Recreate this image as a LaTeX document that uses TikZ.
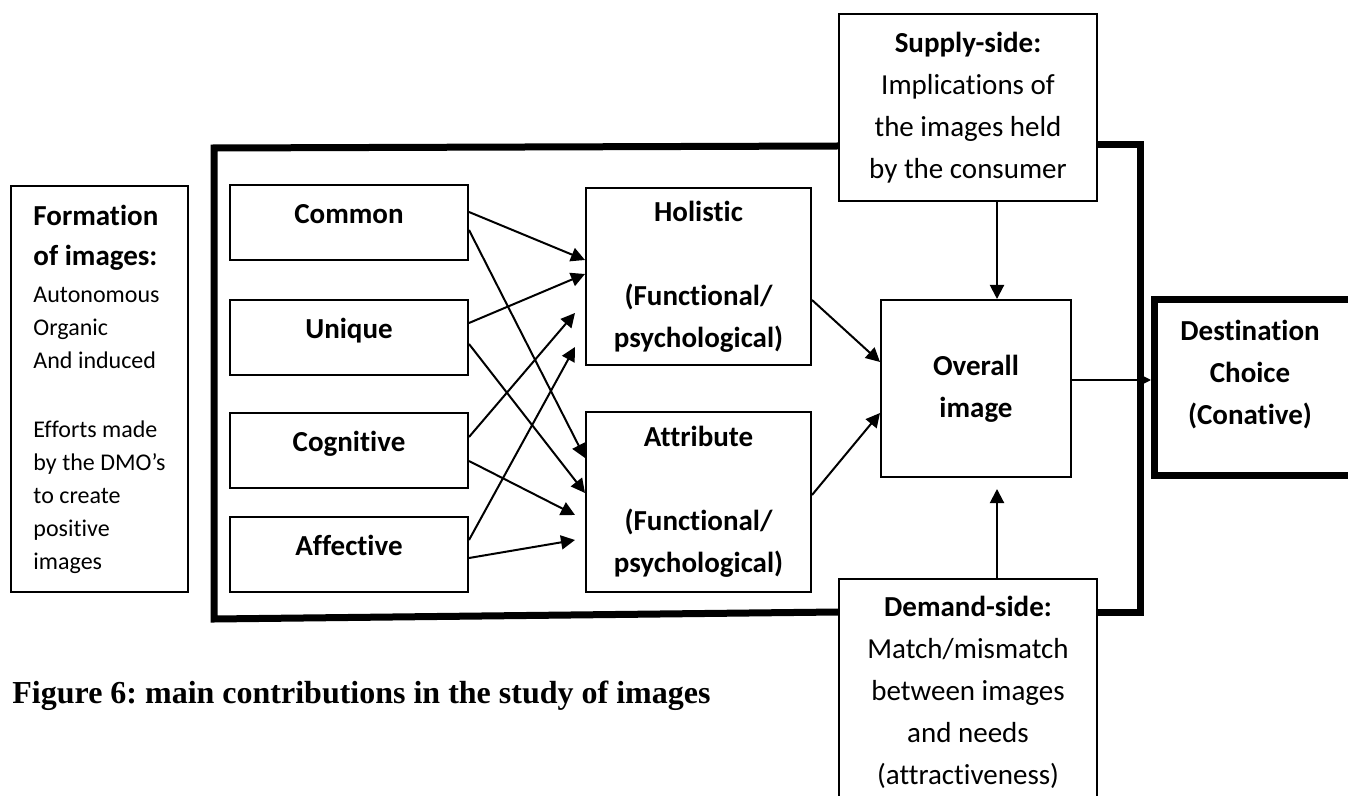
\documentclass[tikz,border=0pt]{standalone}
\usepackage{fontspec}
\setmainfont{Carlito}[Ligatures=NoCommon]
\newfontfamily\capfont{Liberation Serif}
\usetikzlibrary{positioning,arrows.meta}
\frenchspacing

\tikzset{
  box/.style={draw, line width=1pt, align=center, inner sep=2pt, font=\fontsize{14.5}{21}\selectfont},
  boldbox/.style={box, font=\fontsize{14.5}{21}\selectfont\bfseries},
  typebox/.style={boldbox, minimum width=119pt, minimum height=37.5pt, text height=9pt, text depth=8pt},
  arr/.style={-{Triangle[length=7pt,width=7pt]}, line width=1pt},
  bigframe/.style={line width=3.5pt}
}

\begin{document}
\begin{tikzpicture}[x=0.5pt, y=-0.5pt]
    \clip (0,0) rectangle (1348,796);
    \useasboundingbox (0,0) rectangle (1348,796);

    % Left column
    \node[box, align=left, minimum width=88.5pt, minimum height=203pt, font=\fontsize{12}{16.5}\selectfont] (formation) at (99.5,389)
      {{\fontsize{14.5}{20}\selectfont\bfseries Formation}\\[3.5pt]{\fontsize{14.5}{20}\selectfont\bfseries of images:}\\[2pt]Autonomous\\Organic\\And induced\\[18pt]Efforts made\\by the DMO’s\\to create\\positive\\images};

    \node[typebox] (common) at (349,223) {Common};
    \node[typebox] (unique) at (349,338) {Unique};
    \node[typebox] (cognitive) at (349,450) {Cognitive};
    \node[typebox] (affective) at (349,554.5) {Affective};

    % Middle column
    \node[boldbox, minimum width=112.5pt, minimum height=88.5pt, yshift=-1pt] (holistic) at (698.5,274.5) {Holistic\\[21pt](Functional/\\psychological)};
    \node[boldbox, minimum width=112.5pt, minimum height=90pt] (attribute) at (698.5,502) {Attribute\\[21pt](Functional/\\psychological)};

    \node[boldbox, minimum width=95pt, minimum height=88.5pt] (overall) at (976,388.5) {Overall\\image};

    \node[box, minimum width=129pt, minimum height=93.5pt] (supply) at (968,107.5)
      {\textbf{Supply-side:}\\Implications of\\the images held\\by the consumer};
    \node[box, minimum width=129pt, minimum height=113.5pt] (demand) at (968,692.5)
      {\textbf{Demand-side:}\\Match/mismatch\\between images\\and needs\\(attractiveness)};

    % Destination
    \node[draw, line width=3.5pt, minimum width=115pt, minimum height=87.5pt, anchor=west] (dest) at (1151,387.5) {};
    \node[font=\fontsize{14.5}{21}\selectfont\bfseries, align=center] (choice) at (1250,375) {Destination\\Choice\\(Conative)};

    % Thick frame
    \draw[bigframe] (supply.west |- 0,146) -- (214,148) -- (214,619) -- (demand.west |- 0,612);
    \draw[bigframe] (supply.east |- 0,145) -- (1140,145) -- (1140,612) -- (demand.east |- 0,612);

    % Arrows
    \foreach \src/\sy/\dst/\dy/\gap in {common/212/holistic/260/0, common/230/attribute/458/0,
        unique/323/holistic/274/0, unique/344/attribute/493/0,
        cognitive/437/holistic/313/5, cognitive/461/attribute/515/5,
        affective/540/holistic/347/5, affective/558/attribute/540/5} {
      \draw[arr] (\src.east |- 0,\sy) -- ([xshift=-\gap pt]\dst.west |- 0,\dy);
    }
    \draw[arr] (holistic.east |- 0,300) -- (overall.west |- 0,362);
    \draw[arr] (attribute.east |- 0,495) -- (overall.west |- 0,413);
    \draw[arr] (supply.south -| 997,0) -- (overall.north -| 997,0);
    \draw[arr] (demand.north -| 997,0) -- ([yshift=-5.5pt]overall.south -| 997,0);
    \draw[arr] (overall.east |- 0,380) -- (dest.west |- 0,380);

    % Caption
    \node[font=\capfont\bfseries\fontsize{16}{19}\selectfont, anchor=base west, inner sep=0pt] (caption) at (12,703)
      {Figure 6: main contributions in the study of images};
\end{tikzpicture}
\end{document}
